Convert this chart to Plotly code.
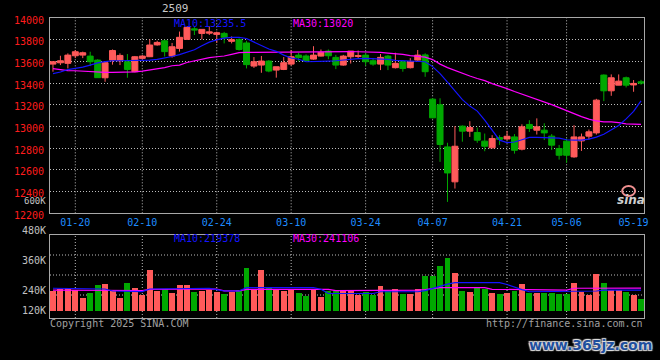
import plotly.graph_objects as go

# ---------------- data ----------------
dates = ["01-15", "01-16", "01-17", "01-20", "01-21", "01-22", "01-23", "01-24", "01-27",
         "02-05", "02-06", "02-07", "02-10", "02-11", "02-12", "02-13", "02-14",
         "02-17", "02-18", "02-19", "02-20", "02-21", "02-24", "02-25", "02-26", "02-27", "02-28",
         "03-03", "03-04", "03-05", "03-06", "03-07", "03-10", "03-11", "03-12", "03-13", "03-14",
         "03-17", "03-18", "03-19", "03-20", "03-21", "03-24", "03-25", "03-26", "03-27", "03-28",
         "03-31", "04-01", "04-02", "04-03", "04-07", "04-08", "04-09", "04-10", "04-11",
         "04-14", "04-15", "04-16", "04-17", "04-18", "04-21", "04-22", "04-23", "04-24", "04-25",
         "04-28", "04-29", "04-30", "05-06", "05-07", "05-08", "05-09",
         "05-12", "05-13", "05-14", "05-15", "05-16", "05-19", "05-20"]

opens = [13575, 13587, 13582, 13652, 13658, 13649, 13612, 13449, 13612, 13606,
         13597, 13505, 13628, 13643, 13752, 13790, 13650, 13720, 13803, 13900,
         13858, 13860, 13849, 13858, 13785, 13800, 13770, 13557, 13566, 13603,
         13520, 13526, 13575, 13658, 13650, 13621, 13649, 13695, 13637, 13566,
         13643, 13645, 13658, 13606, 13575, 13649, 13542, 13597, 13542, 13612,
         13660, 13252, 13200, 12812, 12490, 13003, 12957, 12945, 12865, 12803,
         12898, 12885, 12904, 12791, 13019, 12966, 12966, 12911, 12797, 12865,
         12720, 12867, 12911, 12941, 13474, 13329, 13381, 13449, 13383, 13412]
highs = [13603, 13652, 13674, 13705, 13690, 13689, 13620, 13594, 13710, 13674,
         13668, 13650, 13658, 13803, 13790, 13800, 13770, 13875, 13920, 13920,
         13897, 13926, 13875, 13872, 13830, 13812, 13790, 13640, 13650, 13612,
         13551, 13640, 13705, 13680, 13665, 13740, 13710, 13710, 13660, 13660,
         13695, 13700, 13680, 13630, 13668, 13660, 13680, 13612, 13630, 13705,
         13675, 13262, 13260, 12850, 13003, 13010, 13049, 12990, 12935, 12920,
         12920, 12960, 12930, 13020, 13058, 13075, 13030, 12930, 12830, 12889,
         13012, 12935, 12972, 13255, 13480, 13480, 13480, 13460, 13428, 13430]
lows = [13505, 13566, 13535, 13630, 13630, 13557, 13449, 13412, 13570, 13566,
        13449, 13500, 13620, 13640, 13745, 13645, 13635, 13690, 13800, 13843,
        13803, 13843, 13770, 13766, 13766, 13700, 13535, 13540, 13495, 13500,
        13450, 13520, 13560, 13600, 13600, 13615, 13645, 13620, 13529, 13560,
        13580, 13630, 13560, 13560, 13520, 13520, 13535, 13505, 13535, 13605,
        13458, 13075, 12674, 12305, 12428, 12860, 12904, 12850, 12772, 12800,
        12830, 12874, 12750, 12780, 12950, 12926, 12875, 12783, 12695, 12665,
        12712, 12775, 12880, 12925, 13234, 13283, 13380, 13360, 13320, 13385]
closes = [13597, 13606, 13658, 13689, 13680, 13597, 13450, 13588, 13700, 13655,
          13526, 13643, 13649, 13751, 13775, 13690, 13735, 13822, 13914, 13890,
          13895, 13872, 13864, 13822, 13800, 13710, 13570, 13597, 13603, 13511,
          13551, 13588, 13643, 13635, 13605, 13658, 13683, 13652, 13566, 13649,
          13695, 13653, 13597, 13575, 13637, 13566, 13582, 13535, 13597, 13658,
          13505, 13080, 12834, 12572, 12818, 12957, 12991, 12874, 12818, 12889,
          12882, 12910, 12781, 12997, 12982, 12997, 12941, 12828, 12735, 12735,
          12904, 12904, 12951, 13243, 13329, 13449, 13418, 13381, 13397, 13400]

volumes = [214000, 240000, 250000, 221000, 139000, 193000, 275000, 286000, 211000, 139000,
           300000, 246000, 168000, 435000, 214000, 240000, 193000, 275000, 275000, 203000,
           214000, 221000, 203000, 186000, 203000, 229000, 457000, 229000, 435000, 246000,
           229000, 214000, 229000, 193000, 157000, 229000, 150000, 211000, 211000, 221000,
           211000, 168000, 203000, 168000, 264000, 211000, 232000, 186000, 186000, 232000,
           375000, 375000, 478000, 567000, 407000, 211000, 203000, 257000, 232000, 193000,
           179000, 193000, 214000, 286000, 193000, 193000, 193000, 193000, 186000, 179000,
           300000, 203000, 168000, 393000, 300000, 221000, 221000, 203000, 168000, 125000]

ma10 = [13488, 13502, 13525, 13534, 13548, 13566, 13587, 13598, 13606, 13606,
        13606, 13610, 13612, 13612, 13619, 13631, 13645, 13663, 13682, 13707,
        13745, 13778, 13799, 13815, 13822, 13822, 13811, 13778, 13746, 13714,
        13693, 13658, 13631, 13620, 13597, 13597, 13597, 13603, 13606, 13614,
        13622, 13625, 13628, 13626, 13623, 13618, 13609, 13606, 13606, 13606,
        13597, 13552, 13488, 13409, 13326, 13248, 13188, 13142, 13058, 12966,
        12874, 12851, 12857, 12878, 12899, 12899, 12899, 12896, 12892, 12878,
        12874, 12874, 12883, 12902, 12929, 12966, 13010, 13070, 13140, 13235.5]
ma30 = [13534, 13522, 13515, 13514, 13509, 13504, 13500, 13499, 13499, 13499,
        13499, 13504, 13511, 13520, 13531, 13543, 13560, 13566, 13590, 13606,
        13620, 13635, 13643, 13650, 13665, 13680, 13683, 13684, 13684, 13684,
        13685, 13685, 13686, 13686, 13686, 13688, 13689, 13689, 13689, 13690,
        13690, 13689, 13688, 13686, 13683, 13677, 13674, 13665, 13654, 13645,
        13640, 13617, 13575, 13543, 13515, 13492, 13465, 13442, 13423, 13395,
        13374, 13349, 13322, 13298, 13274, 13254, 13229, 13202, 13174, 13144,
        13118, 13091, 13068, 13051, 13043, 13043, 13035, 13024, 13022, 13020]

vol_ma10 = [240000, 240000, 240000, 240000, 232000, 232000, 232000, 232000, 211000, 211000,
            211000, 211000, 205000, 232000, 232000, 232000, 232000, 240000, 240000, 240000,
            240000, 240000, 225000, 211000, 211000, 211000, 246000, 246000, 246000, 246000,
            246000, 246000, 246000, 246000, 246000, 246000, 230000, 184000, 184000, 184000,
            184000, 184000, 184000, 184000, 203000, 203000, 203000, 203000, 203000, 203000,
            215000, 240000, 262000, 285000, 300000, 300000, 300000, 300000, 300000, 300000,
            300000, 280000, 250000, 225000, 203000, 203000, 203000, 203000, 203000, 203000,
            211000, 211000, 211000, 211000, 221000, 221000, 221000, 221000, 221000, 219378]
vol_ma30 = [221000, 221000, 221000, 221000, 221000, 216000, 216000, 216000, 216000, 216000,
            216000, 216000, 216000, 229000, 229000, 229000, 229000, 232000, 232000, 232000,
            232000, 232000, 232000, 213000, 213000, 213000, 229000, 229000, 229000, 229000,
            229000, 229000, 229000, 229000, 229000, 229000, 229000, 229000, 215000, 215000,
            215000, 215000, 215000, 215000, 221000, 221000, 221000, 221000, 221000, 221000,
            225000, 235000, 246000, 246000, 246000, 246000, 246000, 246000, 246000, 229000,
            229000, 229000, 229000, 229000, 221000, 221000, 221000, 221000, 221000, 221000,
            240000, 240000, 240000, 240000, 240000, 240000, 240000, 240000, 240000, 241106]

date_ticks = ["01-20", "02-10", "02-24", "03-10", "03-24", "04-07", "04-21", "05-06", "05-19"]
price_ticks = [12200, 12400, 12600, 12800, 13000, 13200, 13400, 13600, 13800, 14000]
vol_labels = ["600K", "480K", "360K", "240K", "120K"]
contract = "2509"

# ---------------- styling ----------------
W, H = 660, 360
L, R, T, B = 50, 11, 18, 42
PLOT_W = W - L - R
PLOT_H = H - T - B
RED = "#ff5a5a"
GREEN = "#00a800"
BLUE = "#1414ff"
MAG = "#ff00ff"
BORDER = "#a8a8a8"
GRID = "#bdbdbd"
DASH = "1px,2px"
MONO = "DejaVu Sans Mono, monospace"


def px(x):
    return (x - L) / PLOT_W


def py(y):
    return (H - B - y) / PLOT_H


price_dom = [py(213.3), 1.0]
vol_dom = [0.0, py(234.7)]
# volume scale: 0 at y=310.7px, 10.7K per pixel
vol_px = 10700
vol_range = [-(H - B - 310.7) * vol_px, (310.7 - 234.7) * vol_px]

vol_colors = [RED if c >= o else GREEN for o, c in zip(opens, closes)]

fig = go.Figure()
fig.add_trace(go.Candlestick(
    x=dates, open=opens, high=highs, low=lows, close=closes,
    increasing=dict(line=dict(color=RED, width=1), fillcolor=RED),
    decreasing=dict(line=dict(color=GREEN, width=1), fillcolor=GREEN),
    whiskerwidth=0, hoverinfo="skip", xaxis="x", yaxis="y"))
fig.add_trace(go.Scatter(x=dates, y=ma30, mode="lines", line=dict(color=MAG, width=1.2),
                         hoverinfo="skip", xaxis="x", yaxis="y"))
fig.add_trace(go.Scatter(x=dates, y=ma10, mode="lines", line=dict(color=BLUE, width=1.2),
                         hoverinfo="skip", xaxis="x", yaxis="y"))
fig.add_trace(go.Bar(x=dates, y=volumes, width=0.8,
                     marker=dict(color=vol_colors, line=dict(width=0)),
                     hoverinfo="skip", xaxis="x2", yaxis="y2"))
fig.add_trace(go.Scatter(x=dates, y=vol_ma30, mode="lines", line=dict(color=MAG, width=1.2),
                         hoverinfo="skip", xaxis="x2", yaxis="y2"))
fig.add_trace(go.Scatter(x=dates, y=vol_ma10, mode="lines", line=dict(color=BLUE, width=1.2),
                         hoverinfo="skip", xaxis="x2", yaxis="y2"))

shapes = []
for d in date_ticks[:-1]:
    for xr, yr in (("x", "y domain"), ("x2", "y2 domain")):
        shapes.append(dict(type="line", xref=xr, yref=yr, x0=d, x1=d, y0=0, y1=1,
                           line=dict(color=GRID, width=1, dash=DASH), layer="below"))
# volume panel horizontal grid (fixed pixel rows as in the original)
for gy in (255, 275, 295):
    shapes.append(dict(type="line", xref="paper", yref="paper", x0=0, x1=1, y0=py(gy), y1=py(gy),
                       line=dict(color=GRID, width=1, dash=DASH), layer="below"))
# sina logo ring
shapes.append(dict(type="circle", xref="paper", yref="paper", x0=px(627), x1=px(640),
                   y0=py(196), y1=py(186), line=dict(color="#f09090", width=2)))

ann = []


def text(s, x, y, color, size=10, xanchor="left", family=MONO, **font_extra):
    ann.append(dict(text=s, x=px(x), y=py(y), xref="paper", yref="paper", showarrow=False,
                    xanchor=xanchor, yanchor="middle", borderpad=0,
                    font=dict(family=family, size=size, color=color, **font_extra)))


text(contract, 177, 9, "#c8c8c8", size=11, xanchor="center")
text(f"MA10:{ma10[-1]:g}", 174, 23.5, BLUE)
text(f"MA30:{ma30[-1]:g}", 294, 23.5, MAG)
text(f"MA10:{vol_ma10[-1]}", 174, 238.5, BLUE)
text(f"MA30:{vol_ma30[-1]}", 294, 238.5, MAG)
for lbl, yy, sz in zip(vol_labels, (200.6, 230.7, 260.7, 290.7, 310.7), (9, 10, 10, 10, 10)):
    text(lbl, 47, yy, "#c0c0c0", size=sz, xanchor="right")
text("Copyright 2025 SINA.COM", 49, 323.5, "#a0a0a0")
text("http://finance.sina.com.cn", 649, 323.5, "#a0a0a0", xanchor="right")
text("sina", 636, 200, "#cfcfcf", size=12, xanchor="center", family="DejaVu Sans",
     style="italic", weight=700)
text("www.365jz.com", 595, 345, "#1f4f9e", size=14, xanchor="center", family="DejaVu Sans",
     weight=700, shadow="1px 1px 1px #e0e0e0, -1px -1px 1px #e0e0e0, 1px -1px 1px #e0e0e0, -1px 1px 1px #e0e0e0")

xr = [-0.4, len(dates) - 0.6]
fig.update_layout(
    width=W, height=H, margin=dict(l=L, r=R, t=T, b=B, pad=0),
    paper_bgcolor="black", plot_bgcolor="black", showlegend=False,
    boxgap=0.2, boxgroupgap=0, bargap=0,
    shapes=shapes, annotations=ann,
    xaxis=dict(type="category", domain=[0, 1], range=xr, anchor="y",
               tickmode="array", tickvals=date_ticks, ticktext=date_ticks,
               tickfont=dict(family=MONO, size=10, color="#1e8cff"),
               ticks="", showgrid=False, zeroline=False,
               showline=True, mirror=True, linecolor=BORDER, linewidth=1,
               rangeslider=dict(visible=False), fixedrange=True),
    xaxis2=dict(type="category", domain=[0, 1], range=xr, anchor="y2", matches="x",
                showticklabels=False, ticks="", showgrid=False, zeroline=False,
                showline=True, mirror=True, linecolor=BORDER, linewidth=1),
    yaxis=dict(domain=price_dom, range=[price_ticks[0], price_ticks[-1]], anchor="x",
               tickmode="array", tickvals=price_ticks, ticktext=[str(v) for v in price_ticks],
               tickfont=dict(family=MONO, size=10, color="#ff1c1c"),
               ticks="", ticklabelshift=2, ticklabelstandoff=3,
               showgrid=True, gridcolor=GRID, gridwidth=1, griddash=DASH, zeroline=False,
               showline=True, mirror=True, linecolor=BORDER, linewidth=1),
    yaxis2=dict(domain=vol_dom, range=vol_range, anchor="x2",
                showticklabels=False, ticks="", showgrid=False, zeroline=False,
                showline=True, mirror=True, linecolor=BORDER, linewidth=1),
)

fig.write_html("out.html", config={"displayModeBar": False},
               post_script="document.body.style.margin='0px';document.body.style.background='black';")
